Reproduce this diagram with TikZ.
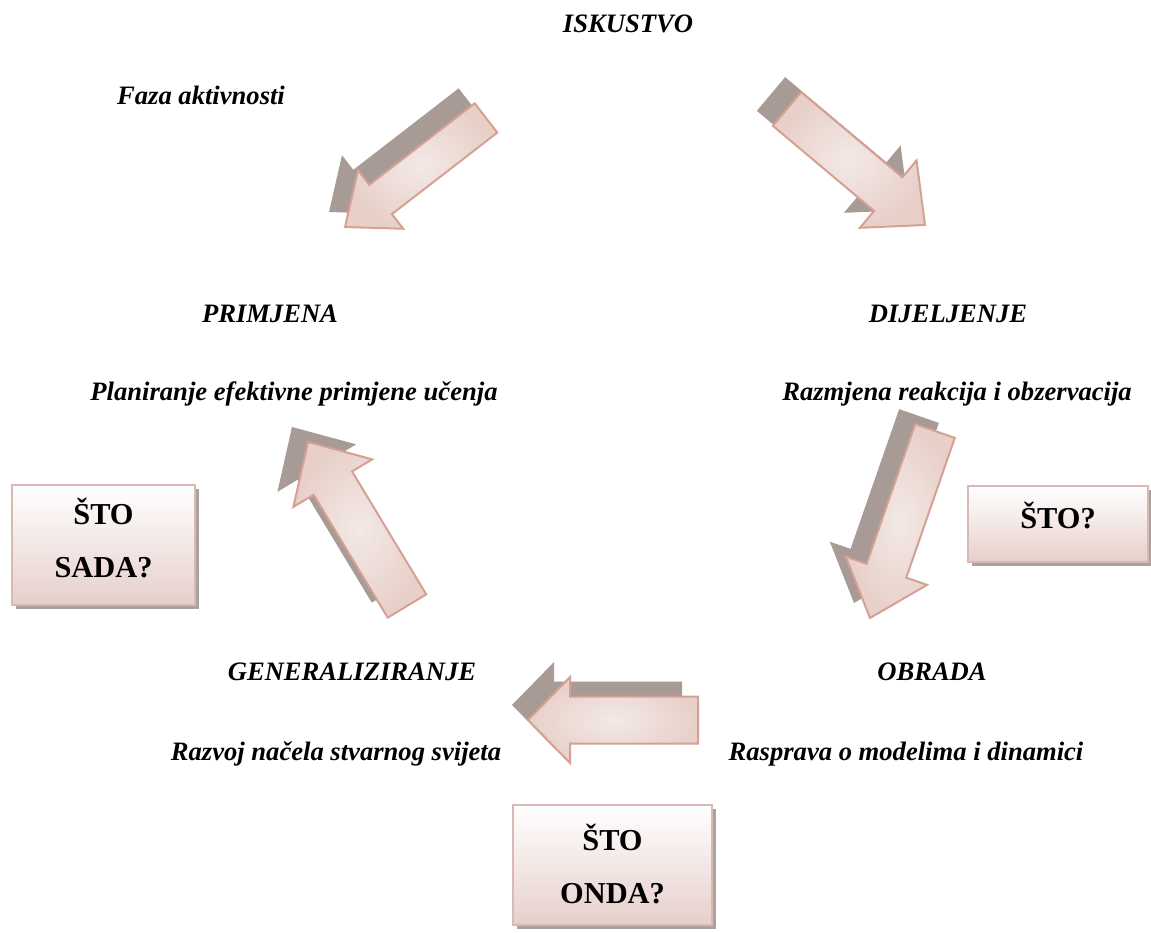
\documentclass[tikz,border=0pt]{standalone}
\usepackage{fontspec}
\setmainfont{Liberation Serif}
\usetikzlibrary{calc,shadows}

\definecolor{arrowline}{HTML}{D4A194}
\definecolor{arrowlight}{HTML}{F3E9E6}
\definecolor{arrowdark}{HTML}{E8D0C9}
\definecolor{arrowshade}{HTML}{A89A95}
\definecolor{boxline}{HTML}{D8B9B3}
\definecolor{boxlow}{HTML}{E6CFCB}
\definecolor{boxshade}{HTML}{ABA19D}

\newcommand{\blockarrow}[5]{%
\coordinate (#2n) at ($(#2)!#5!(#1)$);
\fill[arrowshade,transform canvas={shift={(-16pt,15pt)}}] ($(#1)!#3!90:(#2)$) -- ($(#2n)!#3!90:(#2)$) -- ($(#2n)!#4!90:(#2)$) -- (#2) -- ($(#2n)!#4!-90:(#2)$) -- ($(#2n)!#3!-90:(#2)$) -- ($(#1)!#3!-90:(#2)$) -- cycle;
\draw[bigarrow] ($(#1)!#3!90:(#2)$) -- ($(#2n)!#3!90:(#2)$) -- ($(#2n)!#4!90:(#2)$) -- (#2) -- ($(#2n)!#4!-90:(#2)$) -- ($(#2n)!#3!-90:(#2)$) -- ($(#1)!#3!-90:(#2)$) -- cycle;}

\begin{document}
\begin{tikzpicture}[x=1pt,y=-1pt,
  lbl/.style={font=\fontsize{26.6}{32}\selectfont\bfseries\itshape, anchor=base, inner sep=0pt},
  bigarrow/.style={draw=arrowline, line width=2pt, inner color=arrowlight, outer color=arrowdark},
  box/.style={draw=boxline, line width=1.5pt, top color=white, bottom color=boxlow,
    drop shadow={shadow xshift=4pt, shadow yshift=-4pt, fill=boxshade, opacity=1},
    font=\fontsize{30.4}{53}\selectfont\bfseries, align=center, inner sep=0pt}]
\useasboundingbox (0,0) rectangle (1151,933);

\node[lbl] (isk) at (628,33) {ISKUSTVO};
\node[lbl] (faza) at (201,105) {Faza aktivnosti};
\node[lbl] (prim) at (270,323) {PRIMJENA};
\node[lbl] (plan) at (294,400) {Planiranje efektivne primjene učenja};
\node[lbl] (dij) at (948,323) {DIJELJENJE};
\node[lbl] (razm) at (957,400) {Razmjena reakcija i obzervacija};
\node[lbl] (obr) at (932,680) {OBRADA};
\node[lbl] (rasp) at (906,760) {Rasprava o modelima i dinamici};
\node[lbl] (gen) at (352,680) {GENERALIZIRANJE};
\node[lbl] (razv) at (336,760) {Razvoj načela stvarnog svijeta};

\coordinate (a1) at (486,118); \coordinate (b1) at (345,227);
\coordinate (a2) at (787,109); \coordinate (b2) at (925,225);
\coordinate (a3) at (935,431); \coordinate (b3) at (870,618);
\coordinate (a4) at (698,720); \coordinate (b4) at (528,720);
\coordinate (a5) at (407,606); \coordinate (b5) at (308,442);

\blockarrow{a1}{b1}{18.5pt}{37pt}{45pt}
\blockarrow{a2}{b2}{22pt}{44pt}{48pt}
\blockarrow{a3}{b3}{21pt}{43pt}{50pt}
\blockarrow{a4}{b4}{23.5pt}{43pt}{42pt}
\blockarrow{a5}{b5}{22.5pt}{46pt}{48pt}

\node[box, minimum width=183pt, minimum height=120pt, text height=80pt, text depth=16pt] (sada) at (103.5,545) {ŠTO\\SADA?};
\node[box, minimum width=180pt, minimum height=76pt, text height=26pt, text depth=18pt] (sto) at (1058,524) {ŠTO?};
\node[box, minimum width=199pt, minimum height=120pt, text height=80pt, text depth=4pt] (onda) at (612.5,865) {ŠTO\\ONDA?};
\end{tikzpicture}
\end{document}
